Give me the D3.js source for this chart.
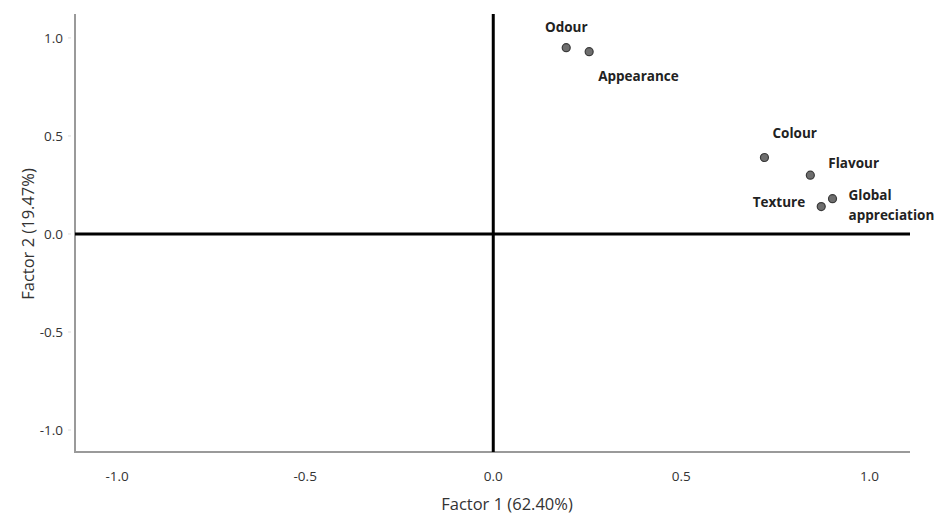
<!DOCTYPE html>
<html lang="en">
<head>
<meta charset="UTF-8">
<script src="https://cdn.jsdelivr.net/npm/d3@7"></script>
<style>
  body { margin: 0; background: #fff; }
  text { font-family: "Open Sans", "Noto Sans", sans-serif; }
</style>
</head>
<body>
<div id="fig"></div>
<script>
    const width = 936, height = 516;

    // loadings
    const attributes = ["Odour", "Appearance", "Colour", "Flavour", "Global appreciation", "Texture"];
    const factor1 = [0.186, 0.247, 0.713, 0.835, 0.894, 0.864];
    const factor2 = [0.95, 0.93, 0.39, 0.30, 0.18, 0.14];
    const xTicks = [-1.0, -0.5, 0.0, 0.5, 1.0];
    const yTicks = [-1.0, -0.5, 0.0, 0.5, 1.0];

    // label placement relative to its point [dx, dy, anchor]
    const labelOffsets = [
        [0, -20, "middle"],
        [9, 25, "start"],
        [8, -24, "start"],
        [18, -12, "start"],
        [16, -3, "start"],
        [-16, -4, "end"]
    ];

    const margins = {top: 14, left: 75, right: 26, bottom: 64};

    const x = d3.scaleLinear().domain([-1.12, 1.1]).range([margins.left, width - margins.right]);
    const y = d3.scaleLinear().domain([-1.112, 1.122]).range([height - margins.bottom, margins.top]);

    // plain hyphen for negatives, like the original
    const fmt = d => d3.format(".1f")(d).replace("\u2212", "-");

    const svg = d3.select("#fig").append("svg")
        .attr("width", width)
        .attr("height", height);

    // axis frame (left + bottom), grey
    svg.append("path")
        .attr("d", `M${margins.left},${margins.top}V${height - margins.bottom}H${width - margins.right}`)
        .attr("fill", "none")
        .attr("stroke", "#9a9a9a")
        .attr("stroke-width", 2);

    // y ticks
    svg.selectAll(".ytick").data(yTicks).enter()
        .append("text")
        .attr("class", "ytick")
        .attr("x", 63)
        .attr("y", d => y(d))
        .attr("dy", "0.35em")
        .attr("text-anchor", "end")
        .attr("font-size", 13.5)
        .attr("fill", "#333")
        .text(fmt);

    svg.selectAll(".ytickmark").data(yTicks).enter()
        .append("line")
        .attr("x1", 68).attr("x2", 71)
        .attr("y1", d => y(d)).attr("y2", d => y(d))
        .attr("stroke", "#ddd");

    // x ticks
    svg.selectAll(".xtick").data(xTicks).enter()
        .append("text")
        .attr("class", "xtick")
        .attr("x", d => x(d) - 3)
        .attr("y", 476)
        .attr("dy", "0.35em")
        .attr("text-anchor", "middle")
        .attr("font-size", 13.5)
        .attr("fill", "#333")
        .text(fmt);

    // zero lines
    svg.append("line")
        .attr("x1", margins.left).attr("x2", width - margins.right)
        .attr("y1", y(0)).attr("y2", y(0))
        .attr("stroke", "#000").attr("stroke-width", 3);
    svg.append("line")
        .attr("x1", x(0) - 3).attr("x2", x(0) - 3)
        .attr("y1", margins.top).attr("y2", height - margins.bottom)
        .attr("stroke", "#000").attr("stroke-width", 3);

    // axis titles
    svg.append("text")
        .attr("x", 507).attr("y", 504)
        .attr("dy", "0.35em")
        .attr("text-anchor", "middle")
        .attr("font-size", 16.5)
        .attr("fill", "#333")
        .text("Factor 1 (62.40%)");
    svg.append("text")
        .attr("transform", `translate(28,${y(0)}) rotate(-90)`)
        .attr("dy", "0.35em")
        .attr("text-anchor", "middle")
        .attr("font-size", 16.5)
        .attr("fill", "#333")
        .text("Factor 2 (19.47%)");

    const pts = attributes.map((a, i) => ({name: a, f1: factor1[i], f2: factor2[i], off: labelOffsets[i]}));

    svg.selectAll(".pt").data(pts).enter()
        .append("circle")
        .attr("class", "pt")
        .attr("cx", d => x(d.f1))
        .attr("cy", d => y(d.f2))
        .attr("r", 4)
        .attr("fill", "#6e6e6e")
        .attr("stroke", "#3a3a3a")
        .attr("stroke-width", 1.2);

    const labels = svg.selectAll(".lbl").data(pts).enter()
        .append("text")
        .attr("class", "lbl")
        .attr("x", d => x(d.f1) + d.off[0])
        .attr("y", d => y(d.f2) + d.off[1])
        .attr("text-anchor", d => d.off[2])
        .attr("font-size", 13.5)
        .attr("font-weight", "bold")
        .attr("fill", "#222");

    labels.each(function(d) {
        const words = d.name.split(" ");
        const t = d3.select(this);
        words.forEach((w, j) => {
            t.append("tspan")
                .attr("x", x(d.f1) + d.off[0])
                .attr("dy", j === 0 ? "0.35em" : "1.45em")
                .text(w);
        });
    });
</script>
</body>
</html>
